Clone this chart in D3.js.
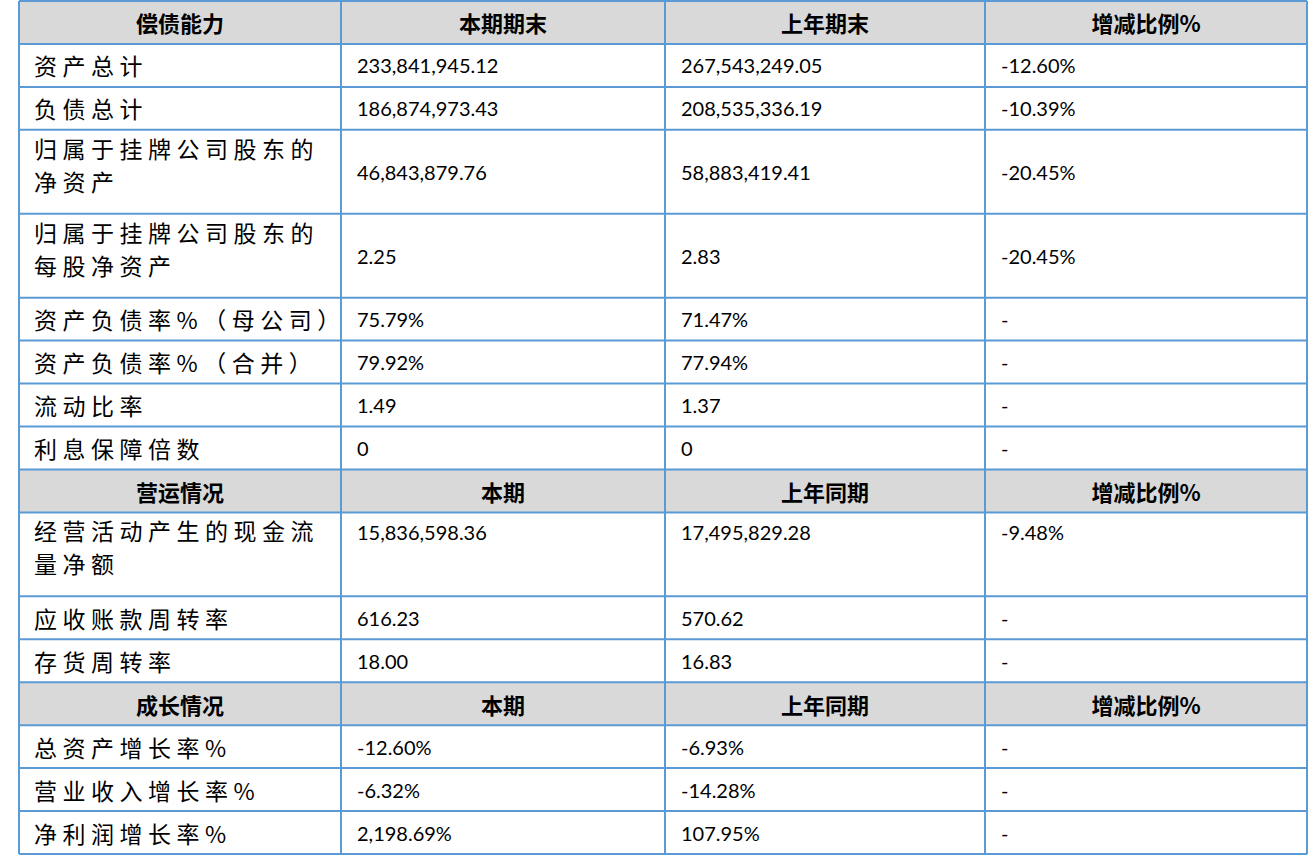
<!DOCTYPE html><html><head><meta charset="utf-8"><script src="https://cdn.jsdelivr.net/npm/d3@7"></script>
<style>body{margin:0;background:#fff}</style></head><body><svg id="c" width="1315" height="865"></svg>
<script>
const colEdges=[19,341,665,985,1307];
const rowKinds=["h","s","s","d","d","s","s","s","s","h","d","s","s","h","s","s","s"];
const col1=[["偿债能力"],["资产总计"],["负债总计"],["归属于挂牌公司股东的","净资产"],["归属于挂牌公司股东的","每股净资产"],["资产负债率%（母公司）"],["资产负债率%（合并）"],["流动比率"],["利息保障倍数"],["营运情况"],["经营活动产生的现金流","量净额"],["应收账款周转率"],["存货周转率"],["成长情况"],["总资产增长率%"],["营业收入增长率%"],["净利润增长率%"]];
const col2=["本期期末","233,841,945.12","186,874,973.43","46,843,879.76","2.25","75.79%","79.92%","1.49","0","本期","15,836,598.36","616.23","18.00","本期","-12.60%","-6.32%","2,198.69%"];
const col3=["上年期末","267,543,249.05","208,535,336.19","58,883,419.41","2.83","71.47%","77.94%","1.37","0","上年同期","17,495,829.28","570.62","16.83","上年同期","-6.93%","-14.28%","107.95%"];
const col4=["增减比例%","-12.60%","-10.39%","-20.45%","-20.45%","-","-","-","-","增减比例%","-9.48%","-","-","增减比例%","-","-","-"];
const topAlign=new Set([10]);
const svg=d3.select("#c");
let y=[0];rowKinds.forEach(k=>y.push(y[y.length-1]+(k==="d"?84:43)));
const ys=d3.scaleLinear().domain([0,854]).range([1,854]);
const font="Lato, 'Noto Sans CJK SC', sans-serif";
rowKinds.forEach((k,i)=>{
 const y0=ys(y[i]),y1=ys(y[i+1]),h=y1-y0;
 if(k==="h")svg.append("rect").attr("x",colEdges[0]).attr("y",y0).attr("width",colEdges[4]-colEdges[0]).attr("height",h).attr("fill","#d9d9d9");
 const cells=[col1[i],[col2[i]],[col3[i]],[col4[i]]];
 cells.forEach((lines,c)=>{
  const hdr=k==="h";
  const x=hdr?(colEdges[c]+colEdges[c+1])/2:colEdges[c]+(c===0?15:16);
  const n=lines.length;
  const t=svg.append("text").attr("x",x).attr("text-anchor",hdr?"middle":"start")
   .attr("font-family",c===0||hdr?"'Noto Sans CJK SC', sans-serif":font)
   .attr("font-size",hdr?22:(c===0?23:20)).attr("font-weight",hdr?"bold":"normal")
   .attr("letter-spacing",(c===0&&!hdr)?"5.5px":"0").attr("fill","#000");
  lines.forEach((s,j)=>{
   let yy;
   if(n===2) yy=y0+18+j*33;
   else if(k==="d"&&topAlign.has(i)) yy=y0+20;
   else yy=y0+h/2;
   t.append("tspan").attr("x",x).attr("y",yy).attr("dominant-baseline","central").text(s);
  });
 });
});
const st="#5b9bd5";
y.forEach(v=>svg.append("line").attr("x1",colEdges[0]).attr("x2",colEdges[4]).attr("y1",ys(v)).attr("y2",ys(v)).attr("stroke",st).attr("stroke-width",2));
colEdges.forEach(v=>svg.append("line").attr("x1",v).attr("x2",v).attr("y1",ys(0)).attr("y2",ys(854)).attr("stroke",st).attr("stroke-width",2));
</script></body></html>
